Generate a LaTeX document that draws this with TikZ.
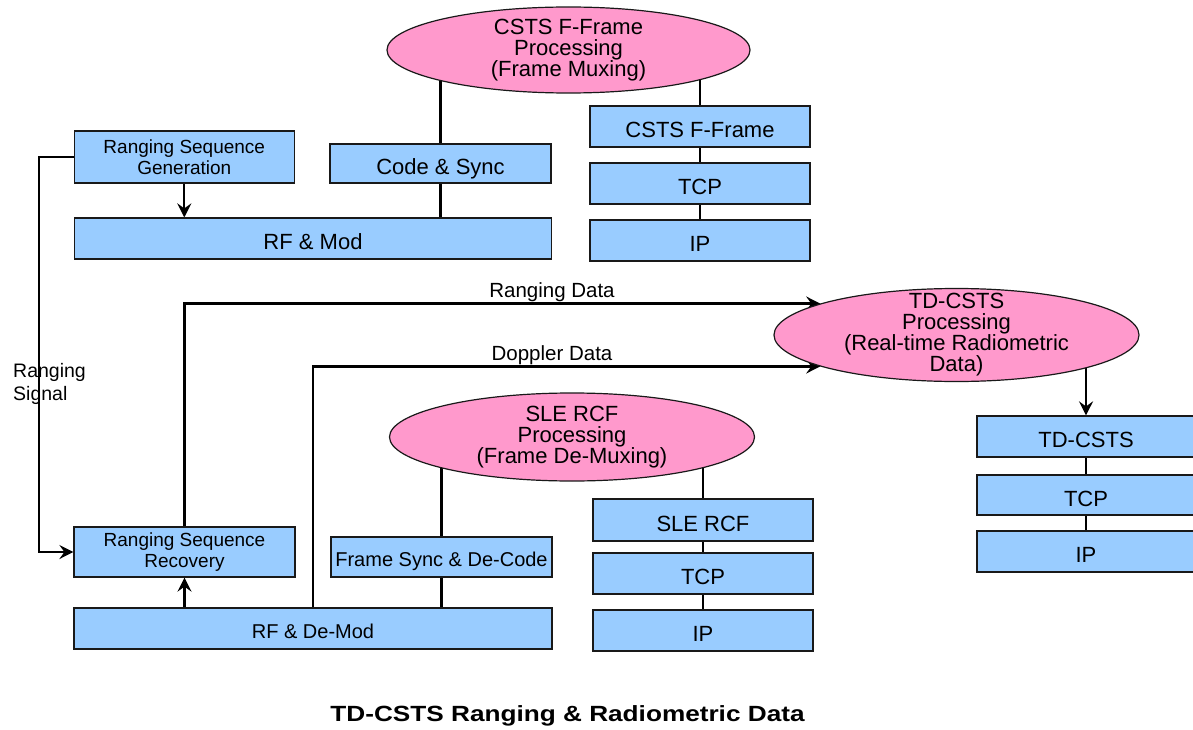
\documentclass[tikz,border=0pt]{standalone}
\usepackage{fontspec}
\setmainfont{Liberation Sans}
\newfontfamily\titlefont{Liberation Sans}[FakeStretch=1.19]
\usetikzlibrary{shapes.geometric,arrows.meta}
\pgfdeclarelayer{bg}
\pgfsetlayers{bg,main}
\definecolor{boxblue}{HTML}{99CCFF}
\definecolor{ellpink}{HTML}{FF99CC}
\begin{document}
\begin{tikzpicture}[x=1pt,y=-1pt,
  boxbase/.style={draw=black!90, line width=1.2pt, fill=boxblue, inner sep=0pt, minimum height=41pt},
  lbl/.style={boxbase, font=\fontsize{22}{25}\selectfont, text height=22pt, text depth=0pt},
  lblsmall/.style={boxbase, font=\fontsize{20}{23}\selectfont, text height=19pt, text depth=0pt},
  twoline/.style={boxbase, align=center, font=\fontsize{19}{20.5}\selectfont},
  procell/.style={ellipse, draw=black!90, line width=1.2pt, fill=ellpink, inner sep=0pt},
  elltext/.style={align=center, font=\fontsize{22}{21}\selectfont, inner sep=0pt},
  conn/.style={line width=2.2pt},
  arr/.style={conn, -{Stealth[length=14pt,width=14pt,inset=5pt]}},
  plain/.style={inner sep=0pt, font=\fontsize{20.5}{23}\selectfont}]
\useasboundingbox (0,0) rectangle (1193,730);

% upper part
\node[procell, minimum width=363pt, minimum height=86pt] (cstsell) at (568.5,50) {};
\node[elltext] (cstsetxt) at (cstsell.center) {CSTS F-Frame\\Processing\\(Frame Muxing)};
\node[twoline, minimum width=220pt, minimum height=52pt] (rsg) at (184.3,157) {Ranging Sequence\\Generation};
\node[lbl, minimum width=221pt, minimum height=39pt] (codesync) at (440.5,163.5) {Code \& Sync};
\node[lbl, minimum width=477pt] (rfmod) at (313,238.5) {RF \& Mod};
\node[lbl, minimum width=220pt] (cstsbox) at (700,126.5) {CSTS F-Frame};
\node[lbl, minimum width=220pt] (tcp1) at (700,183.5) {TCP};
\node[lbl, minimum width=220pt] (ip1) at (700,240.5) {IP};

% TD-CSTS
\node[procell, minimum width=365pt, minimum height=93pt] (tdell) at (956.5,335) {};
\node[elltext] (tdtxt) at (tdell.center) {TD-CSTS\\Processing\\(Real-time Radiometric\\Data)};
\node[lbl, minimum width=218pt] (tdbox) at (1086,436.5) {TD-CSTS};
\node[lbl, minimum width=218pt, minimum height=40pt] (tcp3) at (1086,495) {TCP};
\node[lbl, minimum width=218pt] (ip3) at (1086,551.5) {IP};

% lower part
\node[procell, minimum width=365pt, minimum height=88pt] (sleell) at (572,437) {};
\node[elltext] (sletxt) at (sleell.center) {SLE RCF\\Processing\\(Frame De-Muxing)};
\node[lbl, minimum width=220pt, minimum height=42pt] (slebox) at (703,520) {SLE RCF};
\node[lbl, minimum width=220pt] (tcp2) at (703,573.5) {TCP};
\node[lbl, minimum width=220pt] (ip2) at (703,630.5) {IP};
\node[twoline, minimum width=221pt, minimum height=50pt] (rsr) at (184.5,552) {Ranging Sequence\\Recovery};
\node[lblsmall, minimum width=221pt, minimum height=40pt] (fsdc) at (441.5,557) {Frame Sync \& De-Code};
\node[lblsmall, minimum width=478pt] (rfdemod) at (313,628.5) {RF \& De-Mod};

% labels
\node[plain, anchor=base] (rdlbl) at (552,297) {Ranging Data};
\node[plain, anchor=base] (ddlbl) at (552,360) {Doppler Data};
\node[inner sep=0pt, anchor=west, align=left, font=\fontsize{19.5}{23}\selectfont] (rsig) at (13,383.5) {Ranging\\Signal};
\node[inner sep=0pt, anchor=base, font={\titlefont\bfseries\fontsize{22}{26}\selectfont}] (title) at (567.5,721) {TD-CSTS Ranging \& Radiometric Data};

\begin{pgfonlayer}{bg}
  \draw[conn] (codesync.north) -- (codesync.north |- cstsell.center);
  \draw[conn] (codesync.south) -- (codesync.south |- rfmod.north);
  \draw[conn] (cstsbox.center |- cstsell.center) -- (ip1.center);
  \draw[arr] (rsg.south) -- (rsg.south |- rfmod.north);
  \draw[arr] (rsg.west) -- ++(-35,0) |- (rsr.west);
  \draw[arr] (rsr.south |- rfdemod.north) -- (rsr.south);
  \draw[arr] (rsr.north) |- (tdell.167.2);
  \draw[arr] (rfdemod.north) |- (tdell.-167.2);
  \draw[arr] (tdbox.north |- tdell.center) -- (tdbox.north);
  \draw[conn] (tdbox.center) -- (ip3.center);
  \draw[conn] (slebox.center |- sleell.center) -- (ip2.center);
  \draw[conn] (fsdc.north |- sleell.center) -- (fsdc.north);
  \draw[conn] (fsdc.south) -- (fsdc.south |- rfdemod.north);
\end{pgfonlayer}
\end{tikzpicture}
\end{document}
